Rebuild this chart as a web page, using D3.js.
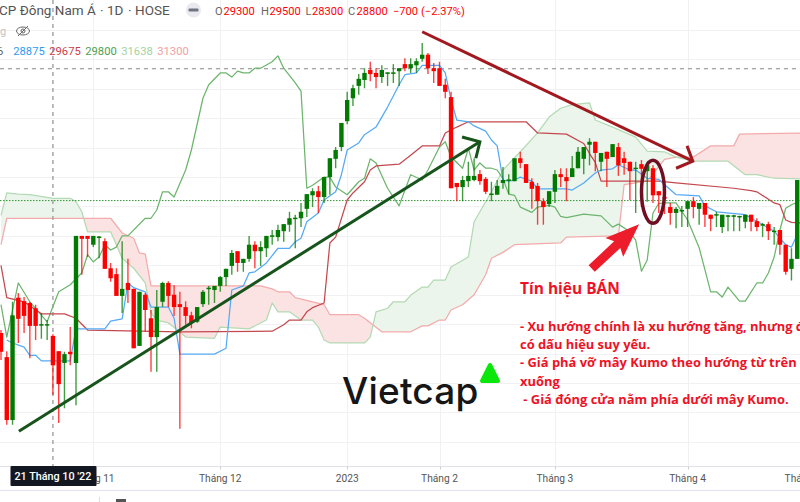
<!DOCTYPE html>
<html>
<head>
<meta charset="utf-8">
<script src="https://cdn.jsdelivr.net/npm/d3@7"></script>
<style>
html, body { margin: 0; padding: 0; background: #fff; overflow: hidden; }
svg { display: block; font-family: Roboto, sans-serif; }
</style>
</head>
<body>
<svg id="chart" width="800" height="502"></svg>
<script>
// open, high, low, close for each session
var candles = [
[29350,29400,28890,29030],[28940,29040,27790,27870],[27870,29880,27790,29650],[29950,30030,29180,29590],
[29890,29960,29350,29640],[29860,29880,28920,29470],[29770,29830,29230,29470],[29480,29690,29250,29500],
[29480,29570,29230,29500],[29300,29330,28300,28800],[29040,29040,27820,28480],[28840,29030,28070,28990],
[29030,29450,28800,28990],[28840,31000,28120,31000],[31000,31000,30340,30950],[31000,31000,30640,30950],
[30850,31000,30810,31000],[30970,31000,30620,30990],[30910,30960,30440,30440],[30450,30540,30220,30280],
[30350,30450,29980,29980],[29980,30910,29690,30100],[30200,30610,29860,30080],[30100,30100,29090,29090],
[29130,30050,29130,30050],[30000,30030,29370,29740],[29600,29740,28690,29280],[29280,30080,28690,29790],
[29880,30220,29790,30200],[30200,30230,29790,29980],[30000,30160,29640,29790],[29840,30050,27720,29790],
[29790,29890,29490,29640],[29650,29710,29430,29520],[29540,29790,29520,29790],[29840,30080,29790,30050],
[30100,30150,29830,30120],[30080,30150,29860,30150],[30150,30320,30050,30300],[30300,30440,30150,30440],
[30490,30760,30340,30710],[30740,30740,30390,30540],[30540,30610,30390,30610],[30610,31000,30560,30850],
[30850,30910,30450,30740],[30740,30910,30490,30810],[30790,31000,30640,31000],[30990,31100,30850,31010],
[30980,31190,30910,31100],[31080,31200,30900,31200],[31190,31410,31070,31300],[31290,31360,30790,31310],
[31300,31560,31150,31410],[31460,31710,31320,31710],[31690,31810,31490,31760],[31760,31850,31390,31660],
[31660,32000,31560,32000],[32000,32320,31700,32320],[32310,32510,32150,32460],[32510,32920,32440,32920],
[32950,33450,32900,33310],[33340,33570,33210,33510],[33550,33750,33400,33670],[33650,33850,33510,33770],
[33820,33960,33630,33750],[33770,33850,33510,33700],[33700,33900,33600,33820],[33760,33780,33550,33780],
[33760,33920,33600,33780],[33800,33850,33550,33850],[33920,34020,33800,33850],[33850,34020,33770,33920],
[33900,34020,33770,33970],[34010,34280,33960,34080],[34080,34110,33750,33850],[33850,33940,33600,33800],
[33850,33960,33550,33550],[33570,33670,33340,33450],[33360,33450,31810,31810],[31900,31900,31590,31830],
[31830,32020,31590,31950],[31930,32260,31830,32020],[31950,32320,31930,32020],[32050,32120,31870,31930],
[31970,32000,31710,31750],[31700,31920,31590,31720],[31700,31950,31700,31850],[31900,32170,31800,31950],
[31940,32050,31710,31960],[31930,32320,31930,32320],[32320,32430,32150,32240],[32220,32220,31900,31900],
[31920,31980,31460,31800],[31850,31900,31190,31590],[31590,31640,31190,31490],[31540,31760,31490,31760],
[31750,32120,31560,32050],[32050,32150,31830,32000],[32000,32150,31590,31930],[32000,32360,32000,32150],
[32150,32510,32150,32430],[32310,32510,32050,32510],[32550,32660,32200,32600],[32600,32600,32100,32410],
[32260,32410,32100,32410],[32430,32430,31830,32310],[32340,32560,32340,32560],[32510,32580,32020,32200],
[32320,32430,32040,32240],[32260,32260,31610,32100],[32140,32260,31390,32160],[32220,32290,31490,32140],
[32100,32260,31580,32200],[32150,32200,31560,31690],[31760,31760,31390,31690],[31660,31710,31370,31640],
[31490,31560,31190,31390],[31390,31490,31130,31460],[31420,31510,31150,31440],[31460,31590,31150,31590],
[31590,31660,31300,31490],[31460,31560,31190,31560],[31560,31560,31150,31360],[31360,31360,31080,31290],
[31350,31410,31150,31370],[31150,31360,31050,31360],[31330,31360,31080,31350],[31330,31360,31080,31350],
[31320,31340,31080,31340],[31240,31360,31130,31360],[31360,31360,31080,31240],[31250,31300,31080,31150],
[31180,31220,30980,31200],[31200,31240,30930,31080],[31070,31150,30850,31090],[31100,31100,30680,30850],
[30850,30850,30340,30390],[30440,30790,30240,30610],[30610,31950,30610,31950]
];

// ichimoku lines, as [session, price]
var tenkan = [[1,29230],[2,29180],[4,29110],[5,28970],[6,28970],[7,28875],[12,28875],[13,29420],[18,29420],[19,29550],[21,29590],
[22,30200],[23,30120],[25,30050],[26,29790],[29,29790],[30,29600],[31,28990],[37,28990],[39,29090],[40,30080],[42,30150],[43,30370],
[44,30390],[46,30540],[48,30790],[50,30790],[51,30900],[52,30960],[53,31240],[55,31390],[56,31610],[58,31750],[59,32040],[60,32460],
[62,32580],[63,32720],[65,32850],[67,33190],[69,33570],[70,33740],[72,33770],[73,33900],[76,33900],[77,33770],[78,33310],[79,32970],
[81,32940],[82,32870],[84,32780],[85,32630],[86,32530],[87,31950],[88,31930],[89,31950],[90,32000],[92,31930],[93,31800],[98,31800],
[99,31780],[101,31900],[103,32070],[104,32120],[106,32140],[107,32210],[109,32120],[110,32120],[112,31980],[114,31960],[117,31700],
[121,31680],[122,31510],[124,31410],[129,31360],[134,31080],[135,30960],[136,30850],[137,30810],[138,31020]];

var kijun = [[0,30500],[1,29950],[4,29880],[7,29675],[11,29675],[13,29600],[15,29400],[31,29370],[47,29380],[49,29490],[50,29570],
[52,29570],[53,29710],[54,29780],[56,29860],[57,30880],[58,30980],[60,31610],[61,31730],[63,31920],[64,32120],[65,32190],[69,32220],
[71,32370],[73,32530],[76,32530],[77,32750],[79,32850],[81,32940],[91,32940],[93,32750],[98,32730],[101,32570],[102,32400],[103,32250],
[104,31930],[114,31930],[117,31900],[127,31810],[130,31770],[131,31750],[134,31560],[135,31530],[136,31270],[137,31230],[139,31220]];

var chikou = [[0,29830],[1,29280],[3,30200],[5,29880],[8,29540],[9,29800],[10,30050],[12,30170],[14,30370],[15,30680],[16,30560],
[17,30640],[18,30850],[19,30760],[20,30810],[21,31000],[22,31000],[25,31300],[26,31300],[27,31440],[28,31750],[29,31750],[30,31660],
[32,32120],[33,32460],[35,33340],[36,33570],[38,33770],[39,33770],[40,33700],[41,33800],[42,33770],[43,33770],[44,33850],[45,33850],
[47,33960],[48,34060],[49,33850],[51,33600],[52,33460],[53,31810],[54,31860],[56,32000],[57,32000],[58,31830],[60,31700],[62,31920],
[63,31980],[64,32310],[65,32240],[67,31810],[69,31510],[71,32040],[73,31950],[74,32120],[76,32510],[77,32600],[78,32340],[80,32150],
[81,32490],[82,32120],[83,32240],[84,32150],[85,32150],[86,32120],[87,31970],[88,31710],[89,31690],[90,31490],[92,31400],[93,31490],
[95,31520],[96,31490],[97,31330],[98,31310],[101,31370],[104,31340],[106,31150],[107,31200],[109,31070],[110,30930],[111,30400],
[112,30590],[113,31390],[114,31550],[115,31560],[117,31560],[119,31270],[121,30800],[123,30050],[124,30050],[125,29960],[126,30130],
[128,29890],[129,29890],[131,30200],[132,30200],[133,30370],[134,30640],[135,31100],[136,31470],[137,31530],[138,31570]];

var spanA = [[0,31350],[1,31730],[3,31710],[5,31700],[9,31638],[12,31640],[13,31580],[14,31410],[15,31070],[19,31070],[20,30850],
[21,30620],[23,30450],[25,30200],[26,29690],[27,29570],[29,29520],[31,29370],[32,29280],[37,29260],[38,29450],[43,29420],[46,29570],
[47,29860],[48,29710],[50,29710],[52,29570],[54,29570],[55,29450],[56,29230],[57,29180],[63,29180],[64,29280],[65,29710],[67,29770],
[68,29880],[70,29880],[71,29990],[73,30130],[74,30130],[75,30250],[77,30250],[78,30470],[81,30640],[82,31240],[83,31410],[85,31750],
[87,32120],[90,32430],[93,32750],[95,33020],[97,33170],[99,33230],[102,33260],[103,32970],[106,32850],[110,32680],[112,32440],
[115,32430],[117,32340],[120,32270],[126,32270],[129,32040],[131,32040],[134,31980],[139,31970]];

var spanB = [[0,30850],[1,31300],[19,31300],[21,31050],[23,30960],[24,30710],[25,30690],[26,30150],[45,30150],[47,30100],[48,30050],
[50,30050],[51,29950],[54,29880],[56,29830],[57,29660],[62,29660],[63,29600],[66,29370],[71,29370],[73,29470],[74,29470],[76,29570],
[77,29570],[78,29740],[80,29830],[82,30000],[84,30340],[85,30620],[87,30720],[89,30850],[97,30880],[98,30980],[107,31000],[108,31870],
[112,31930],[115,32300],[117,32340],[120,32340],[123,32530],[127,32530],[128,32730],[139,32750]];

// month labels and the session each one starts on
var monthTicks = [[16,"Tháng 11"],[38,"Tháng 12"],[60,"2023"],[76,"Tháng 2"],[96,"Tháng 3"],[119,"Tháng 4"],[139,"Tháng 5"]];
var crosshairBar = 9;
var crosshairLabel = "21 Tháng 10 '22";
var lastPriceLine = 33850;
var openPriceLine = 31600;

// hand drawn trend lines on top of the chart, [session, price]
var upTrend = [[3.1,27680],[83,32600]];
var upHead = [[79.9,32680],[83,32600],[82.3,32320]];
var downTrend = [[73,34470],[119.9,32270]];
var downHead = [[118.9,32530],[119.9,32270],[117,32150]];

var noteLines = ["- Xu hướng chính là xu hướng tăng, nhưng đã","có dấu hiệu suy yếu.","- Giá phá vỡ mây Kumo theo hướng từ trên","xuống"," - Giá đóng cửa nằm phía dưới mây Kumo."];
var legendValues = [["28875","#2f9bf5"],["29675","#c9404a"],["29800","#4ea24e"],["31638","#a3d4a3"],["31300","#f2a0a0"]];
var ohlcParts = [["O","#666"],["29300","#f00"],["H","#666"],["29500","#f00"],["L","#666"],["28300","#f00"],["C","#666"],["28800","#f00"],["−700","#f00"],["(−2.37%)","#f00"]];
var ohlcStarts = [215,223.5,261,269.5,305.5,312,348,356.5,393,421];

var W = 800, H = 502, axisY = 466.5;
var svg = d3.select("#chart");
var x = d3.scaleLinear().domain([0, 139]).range([1, 803]);
var y = d3.scaleLinear().domain([34500, 27500]).range([30, 441.8]);

svg.append("rect").attr("width", W).attr("height", H).attr("fill", "#fff");
var clip = svg.append("defs");
clip.append("clipPath").attr("id", "plot").append("rect").attr("width", W).attr("height", axisY);

// grid
var grid = svg.append("g").attr("stroke", "#f1f1f4").attr("stroke-width", 1);
grid.selectAll("line.h").data(d3.range(27500, 35000, 500)).enter().append("line").attr("class", "h")
  .attr("x1", 0).attr("x2", W).attr("y1", function(d) { return Math.round(y(d)) + 0.5; }).attr("y2", function(d) { return Math.round(y(d)) + 0.5; });
grid.selectAll("line.v").data(monthTicks).enter().append("line").attr("class", "v")
  .attr("y1", 0).attr("y2", axisY).attr("x1", function(d) { return Math.round(x(d[0])) + 0.5; }).attr("x2", function(d) { return Math.round(x(d[0])) + 0.5; });

// cloud: each fill is clipped to the side of the other span
function px(d) { return x(d[0]); }
function py(d) { return y(d[1]); }
var plot = svg.append("g").attr("clip-path", "url(#plot)");
var above = d3.area().x(px).y0(0).y1(py);
var below = d3.area().x(px).y0(axisY).y1(py);
clip.append("clipPath").attr("id", "aboveB").append("path").attr("d", above(spanB));
clip.append("clipPath").attr("id", "aboveA").append("path").attr("d", above(spanA));
plot.append("path").attr("d", below(spanA)).attr("fill", "#ebf5ec").attr("clip-path", "url(#aboveB)");
plot.append("path").attr("d", below(spanB)).attr("fill", "#fce3e3").attr("clip-path", "url(#aboveA)");

var line = d3.line().x(px).y(py);
function drawLine(data, color, width) {
  plot.append("path").attr("d", line(data)).attr("fill", "none").attr("stroke", color)
    .attr("stroke-width", width || 1.25).attr("stroke-linejoin", "round");
}
drawLine(spanB, "#f3abab");
drawLine(spanA, "#b3dab3");

// price lines and crosshair
plot.append("line").attr("x1", 0).attr("x2", W).attr("y1", y(lastPriceLine) + 0.5).attr("y2", y(lastPriceLine) + 0.5)
  .attr("stroke", "#8a8a8a").attr("stroke-dasharray", "4 4");
plot.append("line").attr("x1", 0).attr("x2", W).attr("y1", y(openPriceLine)).attr("y2", y(openPriceLine))
  .attr("stroke", "#2f962f").attr("stroke-dasharray", "1.5 1.5");
plot.append("line").attr("x1", x(crosshairBar)).attr("x2", x(crosshairBar)).attr("y1", 0).attr("y2", axisY)
  .attr("stroke", "#a0a0a0").attr("stroke-width", 1.4).attr("stroke-dasharray", "4 4");

drawLine(chikou, "#6db56d");
drawLine(kijun, "#c4494f");
drawLine(tenkan, "#55aaf5");

// candles
var up = "#007a00", down = "#ff0000";
var bars = plot.selectAll("g.candle").data(candles).enter().append("g").attr("class", "candle");
function color(d) { return d[3] >= d[0] ? up : down; }
bars.append("line")
  .attr("x1", function(d, i) { return x(i); }).attr("x2", function(d, i) { return x(i); })
  .attr("y1", function(d) { return y(d[1]); }).attr("y2", function(d) { return y(d[2]); })
  .attr("stroke", color).attr("stroke-width", 1.4).attr("stroke-opacity", 0.75);
bars.append("rect")
  .attr("x", function(d, i) { return x(i) - 2.2; }).attr("width", 4.4)
  .attr("y", function(d) { return y(Math.max(d[0], d[3])); })
  .attr("height", function(d) { return Math.max(1.5, Math.abs(y(d[0]) - y(d[3]))); })
  .attr("fill", color);

// trend lines
function drawMark(data, colorName) {
  plot.append("path").attr("d", line(data)).attr("fill", "none").attr("stroke", colorName)
    .attr("stroke-width", 3).attr("stroke-linejoin", "miter");
}
drawMark(upTrend, "#17541c");
drawMark(upHead, "#17541c");
drawMark(downTrend, "#a2181f");
drawMark(downHead, "#a2181f");

// ellipse round the breakout candle
svg.append("ellipse").attr("cx", x(113)).attr("cy", y(31750)).attr("rx", 11.5).attr("ry", 31.5)
  .attr("fill", "none").attr("stroke", "#6f0f24").attr("stroke-width", 3.5);

// red arrow, pointing up right at the breakout
var tip = [x(110.6), y(31200)], ang = Math.atan2(44, -47);
var arrowShape = [[0,0],[-34,-13],[-30,-4.5],[-65,-4.5],[-65,4.5],[-30,4.5],[-34,13]];
svg.append("polygon")
  .attr("points", arrowShape.map(function(p) { return p.join(","); }).join(" "))
  .attr("transform", "translate(" + tip + ") rotate(" + (ang * 180 / Math.PI + 180) + ")")
  .attr("fill", "#ed1c2a");

// notes
var note = svg.append("g").attr("fill", "#ee1226").attr("font-family", "'Open Sans', sans-serif").attr("font-weight", 700);
note.append("text").attr("x", 520).attr("y", 294).attr("font-size", 15.5).text("Tín hiệu BÁN");
note.selectAll("text.line").data(noteLines).enter().append("text").attr("class", "line")
  .attr("x", 520).attr("y", function(d, i) { return 331 + i * 18.2; })
  .attr("font-size", 12.9).attr("xml:space", "preserve").text(function(d) { return d; });

// logo
svg.append("text").attr("x", 342).attr("y", 404).attr("font-family", "Inter, sans-serif").attr("font-weight", 500)
  .attr("font-size", 37).attr("letter-spacing", 0.2).attr("fill", "#161616").text("Vietcap");
svg.append("polygon").attr("points", "490,365 482,381 498,381").attr("fill", "#0be60b")
  .attr("stroke", "#0be60b").attr("stroke-width", 4).attr("stroke-linejoin", "round");

// time axis
svg.append("rect").attr("x", 0).attr("y", axisY).attr("width", W).attr("height", H - axisY).attr("fill", "#fff");
svg.append("line").attr("x1", 0).attr("x2", W).attr("y1", axisY).attr("y2", axisY).attr("stroke", "#e0e0e6");
svg.append("line").attr("x1", 0).attr("x2", W).attr("y1", 490.5).attr("y2", 490.5).attr("stroke", "#e2e2ee");
var axis = svg.append("g").attr("font-size", 10.2).attr("fill", "#555").attr("text-anchor", "middle");
axis.selectAll("text").data(monthTicks).enter().append("text")
  .attr("x", function(d) { return x(d[0]); }).attr("y", 482)
  .text(function(d) { return d[1]; });
axis.selectAll("line").data(monthTicks).enter().append("line")
  .attr("x1", function(d) { return Math.round(x(d[0])) + 0.5; }).attr("x2", function(d) { return Math.round(x(d[0])) + 0.5; })
  .attr("y1", axisY).attr("y2", axisY + 3).attr("stroke", "#cfcfd6");
svg.append("rect").attr("x", 10.5).attr("y", 466).attr("width", 86).attr("height", 20).attr("rx", 1).attr("fill", "#131722");
svg.append("text").attr("x", x(crosshairBar)).attr("y", 480).attr("text-anchor", "middle")
  .attr("font-size", 10.8).attr("font-weight", 500).attr("fill", "#fff").text(crosshairLabel);
// toolbar edge below the axis
svg.append("line").attr("x1", 99.5).attr("x2", 99.5).attr("y1", 497).attr("y2", H).attr("stroke", "#dcdce4");
svg.append("rect").attr("x", 116).attr("y", 499).attr("width", 10).attr("height", 3).attr("fill", "#555");

// header
var head = svg.append("g").attr("font-size", 13.5).attr("fill", "#555");
head.append("text").attr("x", -1).attr("y", 14.5).text("CP Đông Nam Á");
head.append("text").attr("x", 100).attr("y", 14.5).text("·");
head.append("text").attr("x", 107).attr("y", 14.5).text("1D");
head.append("text").attr("x", 128).attr("y", 14.5).text("·");
head.append("text").attr("x", 135).attr("y", 14.5).text("HOSE");
svg.append("circle").attr("cx", 193.5).attr("cy", 10).attr("r", 7.5).attr("fill", "#e9e9ef");
svg.append("rect").attr("x", 188.5).attr("y", 8.5).attr("width", 10).attr("height", 3).attr("rx", 1).attr("fill", "#6f7480");

svg.selectAll("text.ohlc").data(ohlcParts).enter().append("text").attr("class", "ohlc")
  .attr("x", function(d, i) { return ohlcStarts[i]; }).attr("y", 15).attr("font-size", 11.1)
  .attr("fill", function(d) { return d[1]; }).text(function(d) { return d[0]; });

svg.append("text").attr("x", -6).attr("y", 35).attr("font-size", 11).attr("fill", "#c4c4c4").text("ng");
var eye = svg.append("g").attr("fill", "none").attr("stroke", "#666").attr("stroke-width", 1);
eye.append("ellipse").attr("cx", 23).attr("cy", 31).attr("rx", 6.5).attr("ry", 4);
eye.append("circle").attr("cx", 23).attr("cy", 31).attr("r", 2);
eye.append("line").attr("x1", 18).attr("y1", 36).attr("x2", 28).attr("y2", 26);

svg.append("text").attr("x", -3).attr("y", 55).attr("font-size", 11.2).attr("fill", "#666").text("6");
svg.selectAll("text.val").data(legendValues).enter().append("text").attr("class", "val")
  .attr("x", function(d, i) { return 13.3 + i * 36; }).attr("y", 55).attr("font-size", 11.2)
  .attr("fill", function(d) { return d[1]; }).text(function(d) { return d[0]; });
</script>
</body>
</html>
